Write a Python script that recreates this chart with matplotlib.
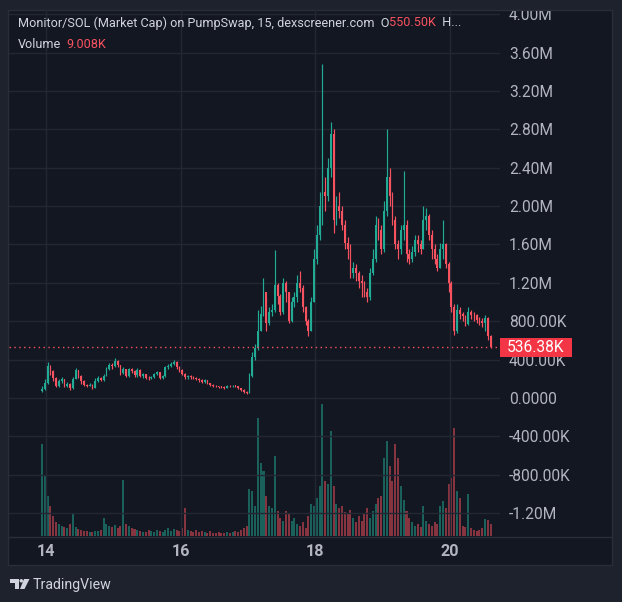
import matplotlib
matplotlib.use("Agg")
import matplotlib.pyplot as plt
from matplotlib.patches import Rectangle, Polygon, Circle
from matplotlib.lines import Line2D
from matplotlib.transforms import Bbox, TransformedBbox

# ---------------- data (market cap in K, hourly candles) ----------------
first_open = 70
close_k = [90, 160, 330, 280, 210, 130, 175, 195, 130, 150,
           100, 200, 290, 230, 180, 135, 130, 140, 105, 180,
           210, 190, 230, 300, 340, 330, 390, 340, 260, 300,
           230, 300, 280, 240, 290, 230, 245, 210, 205, 215,
           250, 270, 210, 225, 320, 335, 355, 380, 320, 290,
           250, 215, 225, 220, 205, 200, 185, 170, 185, 155,
           140, 125, 120, 118, 115, 105, 125, 120, 128, 125,
           100, 85, 60, 55, 230, 430, 520, 700, 880, 1100,
           780, 900, 920, 1180, 1060, 900, 1200, 1100, 800, 1000,
           1050, 1200, 1150, 950, 800, 700, 1000, 1450, 1700, 2000,
           2150, 2100, 2400, 2750, 1850, 2000, 1950, 1800, 1620, 1550,
           1300, 1350, 1300, 1220, 1200, 1100, 1050, 1300, 1450, 1800,
           1750, 1550, 1950, 2300, 2100, 1850, 1600, 1550, 1750, 1800,
           1500, 1450, 1520, 1650, 1600, 1550, 1850, 1900, 1700, 1550,
           1450, 1350, 1550, 1600, 1400, 1200, 950, 700, 920, 880,
           850, 770, 900, 870, 860, 810, 800, 780, 830, 650,
           536.38]
high_k = [120, 200, 370, 345, 290, 220, 200, 215, 200, 170,
          160, 220, 310, 295, 240, 185, 150, 155, 145, 205,
          225, 220, 250, 320, 365, 360, 420, 400, 345, 320,
          305, 315, 310, 290, 315, 300, 260, 250, 225, 230,
          265, 285, 275, 240, 335, 350, 370, 400, 385, 330,
          300, 260, 240, 235, 230, 215, 205, 195, 195, 190,
          160, 145, 135, 130, 125, 120, 135, 135, 140, 140,
          130, 105, 90, 75, 260, 480, 560, 920, 960, 1250,
          1050, 950, 980, 1540, 1200, 1080, 1250, 1220, 1100, 1050,
          1100, 1280, 1320, 1180, 960, 820, 1050, 1550, 1800, 2150,
          3480, 2300, 2500, 2880, 2800, 2100, 2150, 2000, 1850, 1680,
          1600, 1420, 1400, 1320, 1280, 1220, 1150, 1350, 1550, 1900,
          1880, 1800, 2050, 2800, 2400, 2150, 1900, 1650, 1800, 2370,
          1850, 1550, 1580, 1700, 1700, 1650, 2000, 1980, 1920, 1750,
          1600, 1500, 1620, 1850, 1620, 1420, 1220, 980, 980, 950,
          900, 870, 950, 920, 900, 880, 840, 830, 860, 840,
          660]
low_k = [60, 80, 150, 240, 180, 110, 115, 160, 115, 110,
         80, 95, 195, 205, 150, 120, 115, 120, 95, 100,
         170, 175, 180, 225, 290, 300, 320, 320, 240, 250,
         215, 220, 260, 215, 220, 215, 210, 195, 190, 195,
         205, 235, 200, 200, 220, 300, 320, 340, 300, 275,
         235, 200, 200, 200, 195, 185, 170, 160, 160, 145,
         125, 115, 110, 108, 105, 95, 100, 110, 115, 110,
         90, 75, 50, 45, 50, 220, 400, 500, 700, 850,
         700, 760, 850, 900, 980, 870, 880, 1000, 780, 790,
         950, 1000, 1100, 900, 760, 650, 700, 1000, 1400, 1650,
         1800, 1950, 2050, 2300, 1720, 1800, 1880, 1750, 1550, 1450,
         1250, 1250, 1220, 1150, 1050, 1050, 1000, 1020, 1280, 1420,
         1650, 1500, 1520, 1900, 2000, 1800, 1550, 1450, 1500, 1650,
         1420, 1400, 1420, 1480, 1520, 1500, 1550, 1750, 1650, 1450,
         1400, 1320, 1350, 1450, 1350, 1100, 900, 660, 680, 820,
         800, 750, 760, 820, 800, 780, 760, 740, 700, 600,
         520]
volume_k = [138, 90, 60, 45, 30, 21, 18, 15, 14, 12,
            18, 33, 14, 11, 9, 8, 8, 6, 6, 8,
            8, 9, 27, 18, 15, 14, 17, 12, 15, 84,
            18, 15, 12, 11, 9, 8, 6, 6, 9, 8,
            6, 9, 8, 6, 9, 12, 8, 11, 9, 8,
            12, 42, 9, 8, 6, 9, 6, 8, 6, 5,
            8, 5, 5, 6, 5, 5, 6, 5, 6, 8,
            6, 9, 12, 15, 70, 68, 45, 177, 110, 98,
            60, 45, 42, 120, 38, 27, 23, 38, 33, 23,
            27, 18, 15, 21, 12, 30, 48, 45, 57, 75,
            198, 83, 78, 158, 75, 48, 42, 45, 36, 33,
            39, 27, 21, 30, 23, 33, 42, 27, 38, 48,
            57, 60, 117, 143, 105, 83, 138, 117, 75, 54,
            38, 27, 21, 15, 18, 14, 45, 23, 18, 15,
            21, 18, 45, 53, 42, 78, 87, 162, 68, 57,
            15, 14, 63, 12, 9, 8, 9, 12, 26, 24,
            18]
start_day = 13.94
candle_days = 1 / 24

price_ticks = [4000, 3600, 3200, 2800, 2400, 2000, 1600, 1200, 800, 400,
               0, -400, -800, -1200]
price_labels = ["4.00M", "3.60M", "3.20M", "2.80M", "2.40M", "2.00M", "1.60M",
                "1.20M", "800.00K", "400.00K", "0.0000", "-400.00K",
                "-800.00K", "-1.20M"]
day_ticks = [14, 16, 18, 20]
day_labels = ["14", "16", "18", "20"]
last_price_k = 536.38
last_price_label = "536.38K"
title_text = "Monitor/SOL (Market Cap) on PumpSwap, 15, dexscreener.com  O"
title_open = "550.50K"
title_tail = "  H..."
volume_title = "Volume"
volume_last = "9.008K"

# ---------------- style ----------------
UP = "#22ab94"
DOWN = "#f7525f"
BG_OUT = "#1e222d"
BG_IN = "#131722"
GRID = "#232733"
BORDER = "#2a2e39"
TXT = "#d1d4dc"
AX_TXT = "#b2b5be"
FONT = ["Roboto", "DejaVu Sans"]

W, H = 622, 602
fig = plt.figure(figsize=(W / 100, H / 100), dpi=100, facecolor=BG_OUT)


def fx(x):
    return x / W


def fy(y):
    return 1 - y / H


# inner chart panel
fig.patches.append(Rectangle((fx(8), fy(565)), fx(612) - fx(8), fy(10) - fy(565),
                             transform=fig.transFigure, facecolor=BG_IN,
                             edgecolor=BORDER, linewidth=1, zorder=-5))

L, R, T, B = 9, 500, 10, 536
ax = fig.add_axes([fx(L), fy(B), fx(R) - fx(L), fy(T) - fy(B)])
ax.set_facecolor(BG_IN)
ax.patch.set_alpha(0)
ax.set_xlim(13.45, 20.746)
ax.set_ylim(-1438, 4043)

n = len(close_k)
times = [start_day + i * candle_days for i in range(n)]
opens = [first_open] + close_k[:-1]

# volume overlay
vax = ax.twinx()
vax.set_ylim(0, 790)
vax.axis("off")
vcols = [UP if c >= o else DOWN for o, c in zip(opens, close_k)]
vax.bar(times, volume_k, width=candle_days * 0.72, color=vcols, alpha=0.5,
        linewidth=0, zorder=1)
vax.set_zorder(0)
ax.set_zorder(1)

# candles
cols = [UP if c >= o else DOWN for o, c in zip(opens, close_k)]
ax.vlines(times, low_k, high_k, colors=cols, linewidth=0.85, zorder=3)
bottoms = [min(o, c) for o, c in zip(opens, close_k)]
heights = [max(abs(c - o), 8) for o, c in zip(opens, close_k)]
ax.bar(times, heights, bottom=bottoms, width=candle_days * 0.62, color=cols,
       linewidth=0, zorder=4)

# grid
for t in price_ticks:
    ax.axhline(t, color=GRID, linewidth=1, zorder=0)
for d in day_ticks:
    ax.axvline(d, color=GRID, linewidth=1, zorder=0)

# last price line
ax.axhline(last_price_k, color=DOWN, linewidth=1, linestyle=(0, (1, 2.5)), zorder=5)

# axes ticks
ax.set_yticks(price_ticks)
ax.set_yticklabels(price_labels)
ax.yaxis.tick_right()
ax.tick_params(axis="y", length=0, pad=6.5, labelsize=11.2, labelcolor=AX_TXT)
ax.set_xticks(day_ticks)
ax.set_xticklabels(day_labels)
ax.tick_params(axis="x", length=0, pad=5.5, labelsize=11.6, labelcolor=AX_TXT)
clipbb = TransformedBbox(Bbox([[fx(8), fy(565)], [fx(612), fy(10.5)]]), fig.transFigure)
for lab in ax.get_xticklabels() + ax.get_yticklabels():
    lab.set_fontfamily(FONT)
for lab in ax.get_yticklabels():
    lab.set_clip_box(clipbb)
    lab.set_clip_on(True)
for lab in ax.get_xticklabels():
    lab.set_fontweight("bold")
for s in ax.spines.values():
    s.set_visible(False)

# separator under the pane
fig.add_artist(Line2D([fx(8), fx(612)], [fy(536.5), fy(536.5)], transform=fig.transFigure,
                      color=BORDER, linewidth=1))

# last price label
fig.patches.append(Rectangle((fx(500), fy(357)), fx(572) - fx(500), fy(338) - fy(357),
                             transform=fig.transFigure, facecolor="#f23645",
                             edgecolor="none", zorder=6))
fig.text(fx(536), fy(347.5), last_price_label, color="white", fontsize=11.2,
         family=FONT, ha="center", va="center", zorder=7)

# header legend
fig.canvas.draw()
rend = fig.canvas.get_renderer()


def chain(x, y, parts, size=9.1):
    for s, c, gap in parts:
        t = fig.text(fx(x), fy(y), s, color=c, fontsize=size, family=FONT,
                     ha="left", va="center")
        bb = t.get_window_extent(rend)
        x += bb.width + gap


chain(18, 23, [(title_text, TXT, 0), (title_open, DOWN, 0), (title_tail, TXT, 0)])
chain(18, 45, [(volume_title, TXT, 5), (volume_last, DOWN, 0)])

# TradingView logo
logo = "#d1d4dc"
fig.patches.append(Polygon([(fx(10), fy(579)), (fx(19), fy(579)), (fx(19), fy(589)),
                            (fx(15), fy(589)), (fx(15), fy(582.5)), (fx(10), fy(582.5))],
                           closed=True, transform=fig.transFigure, facecolor=logo,
                           edgecolor="none"))
fig.patches.append(Circle((fx(21.3), fy(580.8)), 1.8 / W, transform=fig.transFigure,
                          facecolor=logo, edgecolor="none"))
fig.patches.append(Polygon([(fx(24), fy(579)), (fx(29.5), fy(579)), (fx(24.5), fy(589)),
                            (fx(20), fy(589))], closed=True, transform=fig.transFigure,
                           facecolor=logo, edgecolor="none"))
fig.text(fx(33), fy(584.5), "TradingView", color=logo, fontsize=10.2, family=FONT,
         ha="left", va="center")

fig.savefig("out.png", dpi=100, facecolor=BG_OUT)
